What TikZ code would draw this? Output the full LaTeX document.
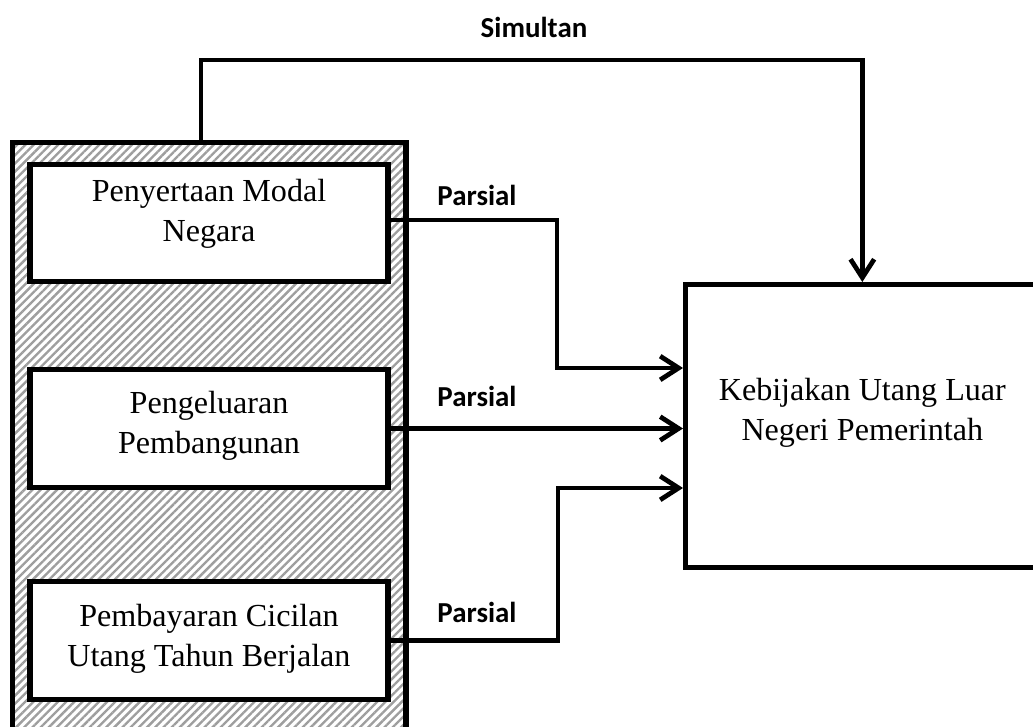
\documentclass[tikz,border=0pt]{standalone}
\usepackage{fontspec}
\setmainfont{Liberation Serif}
\newfontfamily\lblfont{Carlito}
\usetikzlibrary{arrows.meta,patterns.meta,positioning}

\tikzset{
  varbox/.style={draw, line width=2pt, fill=white, minimum width=136pt, minimum height=44.6pt},
  vartext/.style={align=center, font=\fontsize{12.2}{15.2}\selectfont},
  link/.style={line width=1.8pt, -{Straight Barb[length=7pt,width=9pt,line width=1.8pt]}},
  lbl/.style={font=\lblfont\bfseries\fontsize{11}{13}\selectfont}
}

\begin{document}
\begin{tikzpicture}[x=0.38pt,y=-0.38pt]
\useasboundingbox (0,0) rectangle (1033,727);
\fill[white] (0,0) rectangle (1033,727);
\clip (0,0) rectangle (1033,727);

\node[draw, line width=2pt, pattern={Lines[angle=45,distance=2.2pt,line width=0.9pt]}, pattern color=black!38, minimum width=149.7pt, minimum height=235pt, anchor=north west] (grp) at (11,141) {};

\node[varbox, label={[vartext, name=pmntxt, yshift=3.6pt]center:Penyertaan Modal\\Negara}] (pmn) at (209,223) {};
\node[varbox, label={[vartext, name=pptxt, yshift=1.2pt]center:Pengeluaran\\Pembangunan}] (pp) at (209,428.5) {};
\node[varbox, label={[vartext, name=pcutxt, yshift=0.8pt]center:Pembayaran Cicilan\\Utang Tahun Berjalan}] (pcu) at (209,640.5) {};

\node[draw, line width=1.8pt, minimum width=134.5pt, minimum height=107.5pt, anchor=north west, label={[vartext, name=kultxt, yshift=4.8pt]center:Kebijakan Utang Luar\\Negeri Pemerintah}] (kul) at (683,282) {};

\coordinate (j1) at (557,368);
\coordinate (j3) at (558,488);
\coordinate (sim) at (201,60);

\draw[link] ([yshift=1.1pt]pmn.east) -| (j1) -- (j1 -| kul.west);
\draw[link] (pp.east) -- (pp.east -| kul.west);
\draw[link] (pcu.east) -| (j3) -- (j3 -| kul.west);
\draw[link] (grp.north -| sim) -- (sim) -| (kul.north);

\node[lbl] (simlbl) at (534,27) {Simultan};
\node[lbl] (par1) at (477,195) {Parsial};
\node[lbl] (par2) at (477,396) {Parsial};
\node[lbl] (par3) at (477,612) {Parsial};
\end{tikzpicture}
\end{document}
